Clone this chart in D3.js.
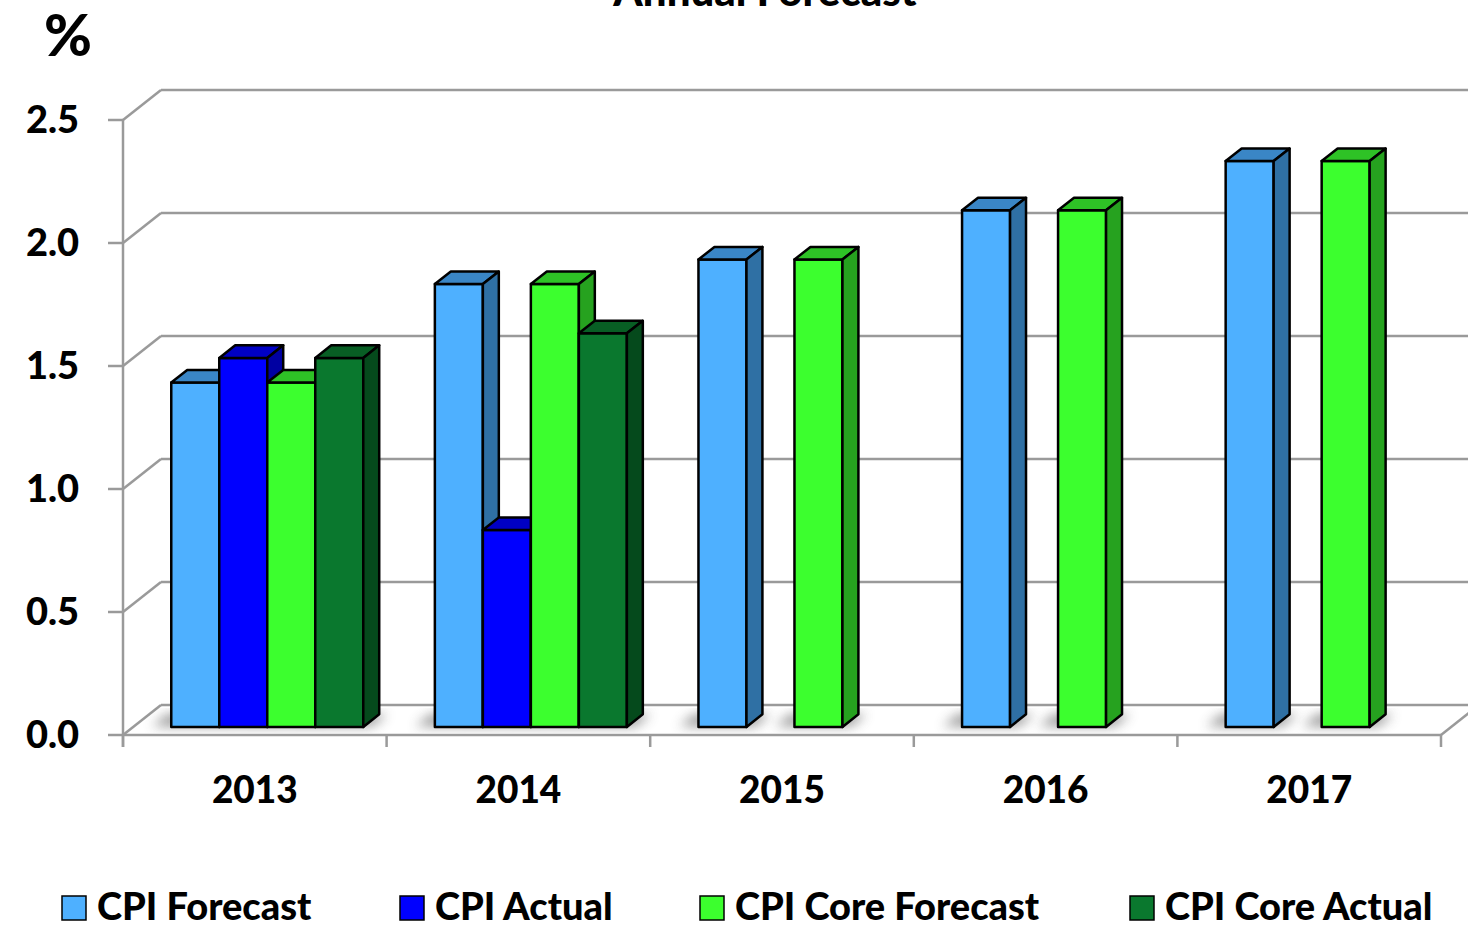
<!DOCTYPE html>
<html>
<head>
<meta charset="utf-8">
<script src="https://cdn.jsdelivr.net/npm/d3@7"></script>
<style>
    html, body { margin: 0; padding: 0; background: #fff; }
    svg text { font-family: Lato, "Open Sans", sans-serif; font-weight: 900; fill: #000; }
</style>
</head>
<body>
<div id="chart"></div>
<script>
'use strict';

const years = ['2013', '2014', '2015', '2016', '2017'];
const seriesNames = ['CPI Forecast', 'CPI Actual', 'CPI Core Forecast', 'CPI Core Actual'];
const cpiForecast = [1.4, 1.8, 1.9, 2.1, 2.3];
const cpiActual = [1.5, 0.8, null, null, null];
const coreForecast = [1.4, 1.8, 1.9, 2.1, 2.3];
const coreActual = [1.5, 1.6, null, null, null];
const yTicks = [0, 0.5, 1.0, 1.5, 2.0, 2.5];

const seriesValues = [cpiForecast, cpiActual, coreForecast, coreActual];
// front / top / side
const seriesColors = [
    ['#4eb0ff', '#3a86c6', '#2f70a4'],
    ['#0000ff', '#0000c4', '#0000a2'],
    ['#3cff2e', '#2ec226', '#26a21f'],
    ['#0a782e', '#085e24', '#054a1c']
];

const W = 1468, H = 925;
const DX = 38, DY = -30;          // depth vector of the floor
const D0 = 0.27, D1 = 0.69;       // bar front / back depth

function proj(x, y, d) {
    return [x + d * DX, y + d * DY];
}

function poly(pts) {
    return pts.map((p) => p.join(',')).join(' ');
}

const svg = d3.select('#chart').append('svg')
    .attr('width', W)
    .attr('height', H);

const defs = svg.append('defs');
defs.append('filter').attr('id', 'shadow')
    .attr('x', '-50%').attr('y', '-50%').attr('width', '200%').attr('height', '200%')
    .append('feGaussianBlur').attr('stdDeviation', 6);

const y = d3.scaleLinear().domain([0, 2.5]).range([735, 120]);
const x0 = d3.scaleBand().domain(years).range([123, 1441]);
const x1 = d3.scaleBand().domain(seriesNames).range([38, 230]);

const gridColor = '#9a9a9a';

// back wall gridlines + left wall diagonals
const grid = svg.append('g');
yTicks.forEach((t) => {
    var f = proj(123, y(t), 0);
    var b = proj(123, y(t), 1);
    grid.append('line')
        .attr('x1', b[0]).attr('y1', b[1])
        .attr('x2', W + 10).attr('y2', b[1])
        .attr('stroke', gridColor).attr('stroke-width', 2.5);
    grid.append('line')
        .attr('x1', f[0]).attr('y1', f[1])
        .attr('x2', b[0]).attr('y2', b[1])
        .attr('stroke', gridColor).attr('stroke-width', 2.5);
    // tick
    grid.append('line')
        .attr('x1', f[0] - 15).attr('y1', f[1])
        .attr('x2', f[0]).attr('y2', f[1])
        .attr('stroke', gridColor).attr('stroke-width', 2.5);
});

// floor front edge + right edge
var fl = proj(123, y(0), 0), fr = proj(1441, y(0), 0), br = proj(1441, y(0), 1);
grid.append('line')
    .attr('x1', fl[0]).attr('y1', fl[1]).attr('x2', fr[0]).attr('y2', fr[1])
    .attr('stroke', gridColor).attr('stroke-width', 2.5);
grid.append('line')
    .attr('x1', fr[0]).attr('y1', fr[1]).attr('x2', br[0]).attr('y2', br[1])
    .attr('stroke', gridColor).attr('stroke-width', 2.5);
// front vertical axis
grid.append('line')
    .attr('x1', 123).attr('y1', y(2.5)).attr('x2', 123).attr('y2', y(0) + 12)
    .attr('stroke', gridColor).attr('stroke-width', 2.5);
// category ticks
x0.domain().concat(['end']).forEach((yr) => {
    var xx = yr === 'end' ? 1441 : x0(yr);
    grid.append('line')
        .attr('x1', xx).attr('y1', y(0)).attr('x2', xx).attr('y2', y(0) + 12)
        .attr('stroke', gridColor).attr('stroke-width', 2.5);
});

// shadows on floor
const shadows = svg.append('g').attr('filter', 'url(#shadow)').attr('opacity', 0.6);
years.forEach((yr, i) => {
    seriesValues.forEach((vals, s) => {
        if (vals[i] == null) {
            return;
        }
        var xl = x0(yr) + x1(seriesNames[s]);
        var w = x1.bandwidth();
        shadows.append('polygon')
            .attr('points', poly([
                proj(xl - 20, y(0), D0 + 0.02),
                proj(xl + w + 8, y(0), D0 + 0.02),
                proj(xl + w + 8, y(0), D1),
                proj(xl - 20, y(0), D1)
            ]))
            .attr('fill', '#555');
    });
});

// bars, drawn left to right so later bars cover earlier side faces
const bars = svg.append('g')
    .attr('stroke', '#000').attr('stroke-width', 2.5).attr('stroke-linejoin', 'round');
years.forEach((yr, i) => {
    seriesValues.forEach((vals, s) => {
        var v = vals[i];
        if (v == null) {
            return;
        }
        var xl = x0(yr) + x1(seriesNames[s]);
        var xr = xl + x1.bandwidth();
        var c = seriesColors[s];
        bars.append('polygon')
            .attr('points', poly([proj(xl, y(v), D0), proj(xr, y(v), D0), proj(xr, y(0), D0), proj(xl, y(0), D0)]))
            .attr('fill', c[0]);
        bars.append('polygon')
            .attr('points', poly([proj(xl, y(v), D0), proj(xr, y(v), D0), proj(xr, y(v), D1), proj(xl, y(v), D1)]))
            .attr('fill', c[1]);
        bars.append('polygon')
            .attr('points', poly([proj(xr, y(v), D0), proj(xr, y(v), D1), proj(xr, y(0), D1), proj(xr, y(0), D0)]))
            .attr('fill', c[2]);
    });
});

// y labels
svg.append('g').selectAll('text')
    .data(yTicks)
    .join('text')
    .attr('x', 79)
    .attr('y', (d) => y(d) + 13)
    .attr('text-anchor', 'end')
    .attr('font-size', 38)
    .text((d) => d3.format('.1f')(d));

// x labels
svg.append('g').selectAll('text')
    .data(years)
    .join('text')
    .attr('x', (d) => x0(d) + x0.bandwidth() / 2)
    .attr('y', 803)
    .attr('text-anchor', 'middle')
    .attr('font-size', 37)
    .text((d) => d);

// unit + title
svg.append('text').attr('x', 44).attr('y', 56).attr('font-size', 58).text('%');
svg.append('text').attr('x', 765).attr('y', 6).attr('text-anchor', 'middle')
    .attr('font-size', 42).text('Annual Forecast');

// legend
const legendX = [62, 400, 700, 1130];
const legend = svg.append('g');
seriesNames.forEach((name, s) => {
    legend.append('rect')
        .attr('x', legendX[s]).attr('y', 896)
        .attr('width', 24).attr('height', 24)
        .attr('fill', seriesColors[s][0])
        .attr('stroke', '#000').attr('stroke-width', 1.5);
    legend.append('text')
        .attr('x', legendX[s] + 35).attr('y', 920)
        .attr('font-size', 38)
        .text(name);
});
</script>
</body>
</html>
